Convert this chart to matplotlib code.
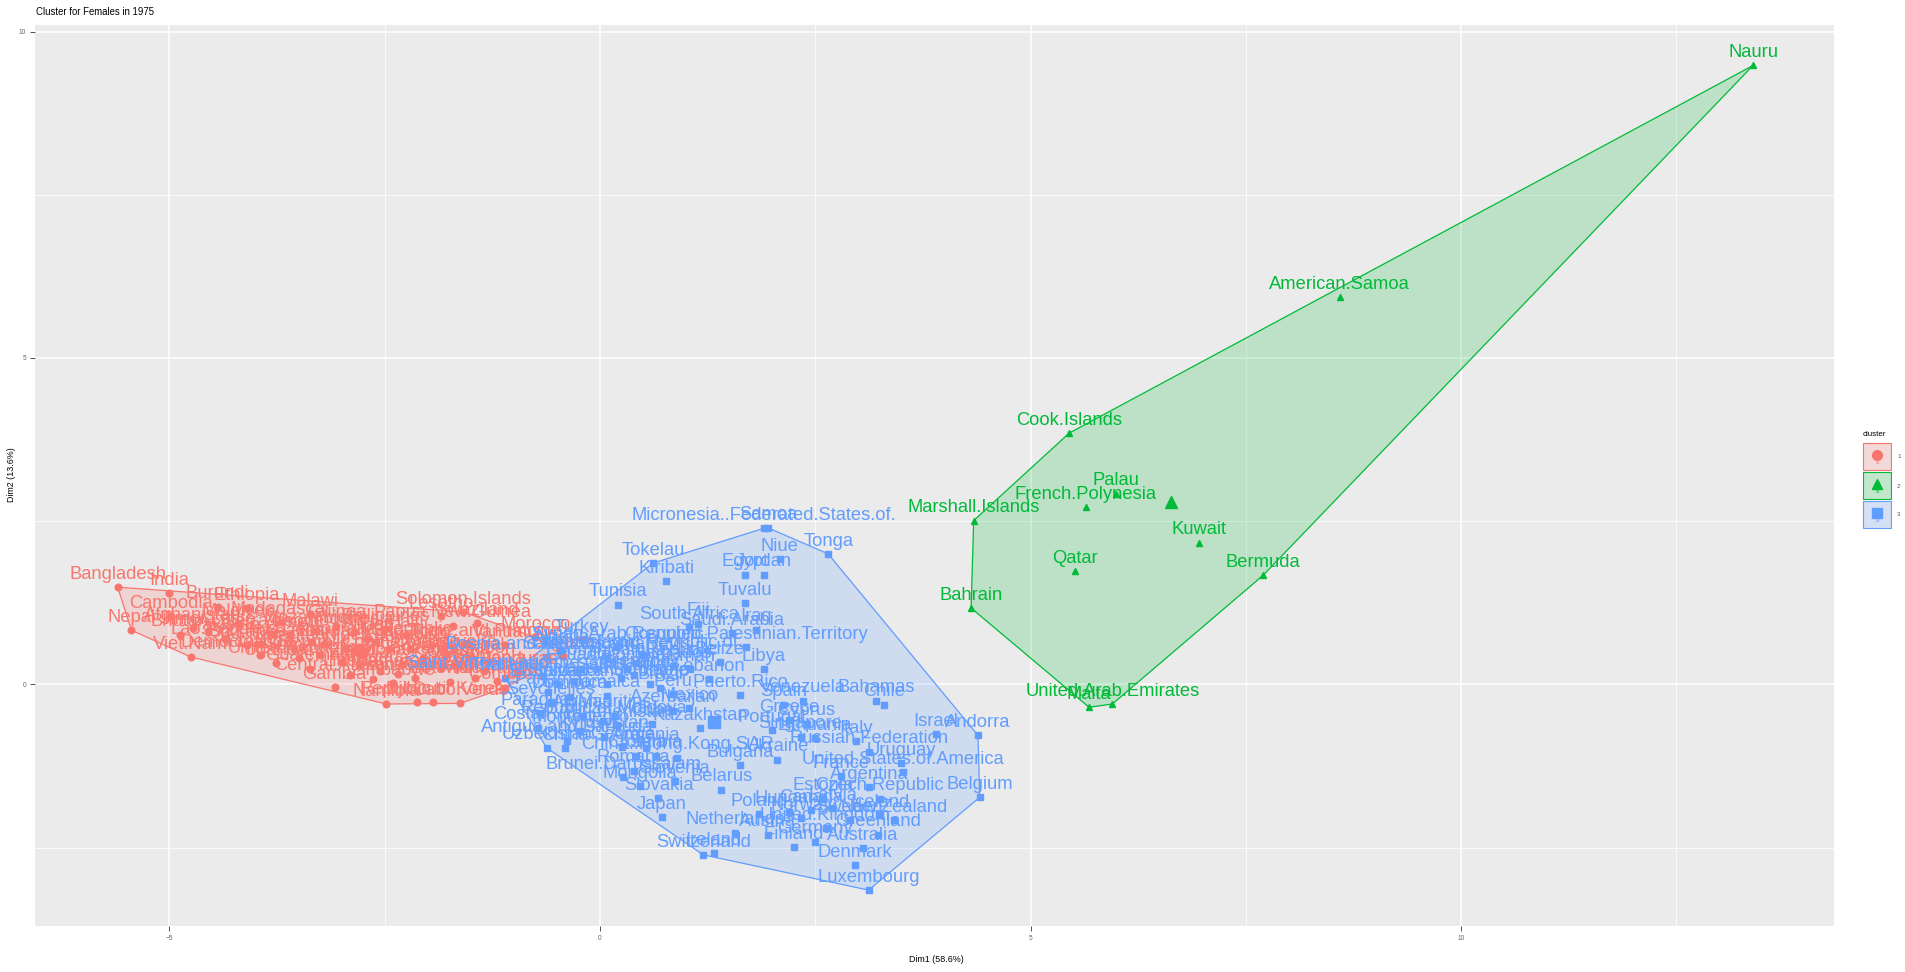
import numpy as np
import matplotlib
matplotlib.use("Agg")
import matplotlib.pyplot as plt
from matplotlib.patches import Polygon, Rectangle

plt.rcParams["font.family"] = ["Liberation Sans", "DejaVu Sans"]

# cluster 1 (red circles)
names_1 = ["Bangladesh", "India", "Nepal", "Viet.Nam", "Cambodia", "Afghanistan", "Bhutan", "Burundi",
           "Ethiopia", "Malawi", "Maldives", "Sierra.Leone", "Guinea", "Madagascar", "Mozambique",
           "Burkina.Faso", "Uganda", "Guatemala", "Central.African.Republic", "Gambia", "Namibia",
           "Djibouti", "Republic.of.Korea", "Cabo.Verde", "Solomon.Islands", "Lesotho", "Papua.New.Guinea",
           "Swaziland", "Morocco", "Sao.Tome.and.Principe", "Equatorial.Guinea", "Nicaragua", "Comoros",
           "Botswana", "Zimbabwe", "Myanmar", "Rwanda", "Eritrea", "Niger", "Chad", "Mali", "Kenya",
           "United.Republic.of.Tanzania", "Zambia", "Angola", "Benin", "Togo", "Ghana", "Nigeria",
           "Cameroon", "Congo", "Democratic.Republic.of.the.Congo", "Liberia", "Guinea.Bissau", "Senegal",
           "Mauritania", "Sudan", "Somalia", "Haiti", "Honduras", "Yemen", "Pakistan", "Sri.Lanka",
           "Lao.People.s.Democratic.Republic", "Indonesia", "Philippines", "Timor.Leste", "Cote.d.Ivoire",
           "Gabon", "Vanuatu", "Tajikistan", "Guyana"]
x_1 = [-5.60, -5.00, -5.44, -4.75, -4.98, -4.73, -4.88, -4.44, -4.10, -3.37, -4.20, -3.81, -3.06, -3.70,
       -3.30, -3.93, -3.76, -3.37, -2.64, -3.08, -2.48, -2.13, -1.94, -1.62, -1.59, -1.84, -1.71, -1.43,
       -0.75, -1.55, -2.30, -1.20, -1.10, -1.74, -2.40, -3.55, -3.95, -3.20, -2.95, -2.75, -2.60, -2.45,
       -3.00, -2.80, -2.20, -2.05, -1.95, -1.85, -2.55, -2.35, -1.70, -3.25, -2.90, -2.15, -1.50, -1.35,
       -2.70, -3.50, -2.25, -0.95, -3.60, -4.35, -4.10, -3.35, -2.85, -2.50, -4.55, -1.80, -1.30, -1.10,
       -1.45, -0.43]
y_1 = [1.49, 1.40, 0.83, 0.42, 1.05, 0.86, 0.76, 1.19, 1.17, 1.08, 0.92, 0.77, 0.90, 0.95, 0.82, 0.62,
       0.33, 0.24, 0.09, -0.04, -0.30, -0.27, -0.27, -0.29, 1.11, 1.05, 0.90, 0.94, 0.72, 0.62, 0.32, 0.05,
       -0.05, 0.04, 0.02, 0.55, 0.45, 0.62, 0.55, 0.45, 0.65, 0.55, 0.35, 0.30, 0.55, 0.40, 0.60, 0.25,
       0.20, 0.16, 0.30, 0.45, 0.15, 0.10, 0.40, 0.20, 0.70, 0.40, 0.75, 0.18, 0.75, 0.70, 0.60, 0.65,
       0.80, 0.85, 0.80, 0.45, 0.35, 0.60, 0.10, 0.44]

# cluster 2 (green triangles)
names_2 = ["Nauru", "American.Samoa", "Cook.Islands", "Palau", "French.Polynesia", "Marshall.Islands",
           "Kuwait", "Qatar", "Bermuda", "Bahrain", "United.Arab.Emirates", "Malta"]
x_2 = [13.39, 8.59, 5.45, 5.99, 5.64, 4.34, 6.96, 5.52, 7.70, 4.31, 5.95, 5.68]
y_2 = [9.48, 5.93, 3.85, 2.92, 2.71, 2.51, 2.17, 1.73, 1.67, 1.17, -0.30, -0.35]

# cluster 3 (blue squares)
names_3 = ["Micronesia..Federated.States.of.", "Samoa", "Tonga", "Niue", "Tokelau", "Egypt", "Jordan",
           "Kiribati", "Tuvalu", "Tunisia", "Fiji", "South.Africa", "Iraq", "Saudi.Arabia", "Turkey",
           "Occupied.Palestinian.Territory", "Syrian.Arab.Republic", "Algeria", "Saint.Kitts.and.Nevis",
           "Bosnia.and.Herzegovina", "Belize", "Barbados", "Libya", "Saint.Vincent.and.the.Grenadines",
           "Lebanon", "Suriname", "Puerto.Rico", "Peru", "Venezuela", "Bahamas", "Chile", "Spain",
           "Seychelles", "Azerbaijan", "Paraguay", "Kazakhstan", "Mexico", "Republic.of.Moldova", "Albania",
           "Montenegro", "Costa.Rica", "Antigua.and.Barbuda", "Uzbekistan", "China", "Singapore",
           "Lithuania", "Italy", "Russian.Federation", "Uruguay", "United.States.of.America", "Argentina",
           "Czech.Republic", "Israel", "Andorra", "Belgium", "Estonia", "Latvia", "Canada", "Iceland",
           "New.Zealand", "Greenland", "Norway", "Sweden", "Poland", "Hungary", "United.Kingdom", "Austria",
           "Netherlands", "Finland", "Germany", "Australia", "Denmark", "Luxembourg", "Switzerland",
           "Ireland", "Japan", "Slovakia", "Slovenia", "Mongolia", "Brunei.Darussalam", "Belarus",
           "Bulgaria", "Ukraine", "Romania", "China..Hong.Kong.SAR", "Georgia", "Armenia", "Croatia",
           "Serbia", "Kyrgyzstan", "Turkmenistan", "Cuba", "Mauritius", "Jamaica", "Dominica",
           "Trinidad.and.Tobago", "Panama", "Ecuador", "Colombia", "Dominican.Republic", "Brazil",
           "Iran..Islamic.Republic.of.", "Malaysia", "Thailand", "Oman", "Grenada", "Saint.Lucia", "Cyprus",
           "Greece", "Portugal", "France", "El.Salvador"]
x_3 = [1.90, 1.95, 2.65, 2.09, 0.62, 1.68, 1.90, 0.77, 1.68, 0.21, 1.14, 1.04, 1.81, 1.53, -0.21, 1.70,
       0.20, -0.45, 0.08, -0.63, 1.39, 0.85, 1.90, -0.66, 1.27, 0.58, 1.63, 0.85, 2.36, 3.21, 3.30, 2.13,
       -0.57, 0.85, -0.70, 1.16, 1.04, 0.04, -0.20, -0.23, -0.72, -0.38, -0.62, -0.40, 2.33, 2.50, 2.97,
       3.13, 3.50, 3.52, 3.13, 3.25, 3.90, 4.39, 4.41, 2.59, 2.70, 2.45, 3.25, 3.42, 3.23, 2.34, 2.90,
       1.85, 2.20, 2.62, 1.95, 1.57, 2.25, 2.50, 3.05, 2.96, 3.12, 1.20, 1.32, 0.72, 0.68, 0.87, 0.46,
       0.27, 1.41, 1.63, 2.06, 0.39, 0.90, 0.26, 0.54, 0.42, 0.65, 0.05, 0.20, 0.60, 0.17, 0.08, -0.35,
       0.08, -0.60, -0.23, 0.31, 0.42, 0.70, 0.50, -0.30, -1.10, 1.05, 0.40, 0.25, 2.40, 2.20, 2.00, 2.80,
       -0.50]
y_3 = [2.39, 2.40, 2.00, 1.92, 1.86, 1.68, 1.68, 1.58, 1.24, 1.22, 0.93, 0.88, 0.84, 0.79, 0.68, 0.57,
       0.57, 0.52, 0.41, 0.42, 0.34, 0.28, 0.23, 0.13, 0.08, 0.01, -0.16, -0.15, -0.25, -0.25, -0.31, -0.31,
       -0.27, -0.40, -0.44, -0.67, -0.36, -0.56, -0.48, -0.71, -0.66, -0.86, -0.97, -0.98, -0.80, -0.82,
       -0.87, -1.03, -1.21, -1.34, -1.57, -1.75, -0.76, -0.78, -1.73, -1.75, -1.90, -1.93, -2.00, -2.08,
       -2.30, -2.05, -2.08, -1.99, -1.95, -2.20, -2.30, -2.27, -2.49, -2.41, -2.51, -2.77, -3.15, -2.61,
       -2.58, -2.03, -1.74, -1.48, -1.56, -1.42, -1.61, -1.24, -1.15, -1.32, -1.12, -0.96, -0.98, -1.09,
       -1.09, -0.80, -0.62, -0.60, -0.48, -0.17, -0.19, 0.00, -0.12, 0.24, 0.24, 0.33, -0.05, 0.45, 0.05,
       0.10, 0.23, 0.15, 0.10, -0.60, -0.55, -0.70, -1.40, 0.00]

colors = ["#F8766D", "#00BA38", "#619CFF"]
markers = ["o", "^", "s"]


def convex_hull(px, py):
    pts = sorted(set(zip(px, py)))

    def cross(o, a, b):
        return (a[0] - o[0]) * (b[1] - o[1]) - (a[1] - o[1]) * (b[0] - o[0])

    lower, upper = [], []
    for p in pts:
        while len(lower) >= 2 and cross(lower[-2], lower[-1], p) <= 0:
            lower.pop()
        lower.append(p)
    for p in reversed(pts):
        while len(upper) >= 2 and cross(upper[-2], upper[-1], p) <= 0:
            upper.pop()
        upper.append(p)
    return np.array(lower[:-1] + upper[:-1])


fig = plt.figure(figsize=(19.06, 9.72), dpi=100)
ax = fig.add_axes([35 / 1906, 1 - 926 / 972, 1799 / 1906, 901 / 972])
ax.set_facecolor("#EBEBEB")
for s in ax.spines.values():
    s.set_visible(False)

clusters = [(names_1, x_1, y_1), (names_2, x_2, y_2), (names_3, x_3, y_3)]

for k, (nm, xs, ys) in enumerate(clusters):
    col = colors[k]
    hull = convex_hull(xs, ys)
    ax.add_patch(Polygon(hull, closed=True, facecolor=col, alpha=0.2, edgecolor="none", zorder=1))
    ax.add_patch(Polygon(hull, closed=True, facecolor="none", edgecolor=col, lw=0.9, zorder=1.5))
    ax.plot(xs, ys, linestyle="none", marker=markers[k], color=col, ms=4.8, zorder=2)
    for n, xv, yv in zip(nm, xs, ys):
        ax.annotate(n, (xv, yv), xytext=(0, 6), textcoords="offset points", ha="center",
                    va="baseline", fontsize=13.2, color=col, zorder=3)
    ax.plot([np.mean(xs)], [np.mean(ys)], linestyle="none", marker=markers[k], color=col, ms=9, zorder=4)

ax.set_xlim(-6.56, 14.33)
ax.set_ylim(-3.70, 10.10)
ax.set_xticks([-5, 0, 5, 10])
ax.set_xticks([-2.5, 2.5, 7.5, 12.5], minor=True)
ax.set_yticks([0, 5, 10])
ax.set_yticks([-2.5, 2.5, 7.5], minor=True)
ax.grid(which="major", color="white", lw=1.1)
ax.grid(which="minor", color="white", lw=0.55)
ax.set_axisbelow(True)
ax.tick_params(which="major", length=3.5, width=0.6, color="#333333", labelsize=4.7,
               labelcolor="#666666", pad=3)
ax.tick_params(which="minor", length=0)

fig.text(36 / 1906, 1 - 12 / 972, "Cluster for Females in 1975", fontsize=6.9, va="center", ha="left")
fig.text(936 / 1906, 1 - 959 / 972, "Dim1 (58.6%)", fontsize=6.4, ha="center", va="center")
fig.text(12 / 1906, 1 - 475 / 972, "Dim2 (13.6%)", fontsize=6.4, ha="center", va="center", rotation=90)

# legend
lax = fig.add_axes([1862 / 1906, 1 - 529 / 972, 30 / 1906, 87 / 972])
lax.set_xlim(0, 1)
lax.set_ylim(0, 3)
lax.axis("off")
for k in range(3):
    y0 = 2 - k
    lax.add_patch(Rectangle((0.04, y0 + 0.03), 0.92, 0.94, facecolor="#F2F2F2", edgecolor="none"))
    lax.add_patch(Rectangle((0.04, y0 + 0.03), 0.92, 0.94, facecolor=colors[k], alpha=0.2, edgecolor="none"))
    lax.add_patch(Rectangle((0.04, y0 + 0.03), 0.92, 0.94, facecolor="none", edgecolor=colors[k], lw=0.8))
    lax.plot([0.5], [y0 + 0.55], marker=markers[k], color=colors[k], ms=7)
    lax.text(0.5, y0 + 0.28, "a", fontsize=4, color=colors[k], ha="center", va="center")
    fig.text(1897 / 1906, 1 - (457 + 29 * k) / 972, str(k + 1), fontsize=4.5, color="#555555",
             ha="left", va="center")
fig.text(1863 / 1906, 1 - 435 / 972, "cluster", fontsize=5.8, ha="left", va="center")

fig.savefig("out.png", dpi=100)
